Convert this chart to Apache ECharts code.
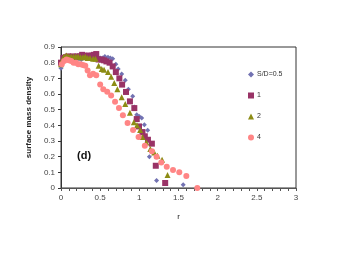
<!DOCTYPE html>
<html><head><meta charset="utf-8">
<script src="https://cdn.jsdelivr.net/npm/echarts@6/dist/echarts.min.js"></script>
<style>html,body{margin:0;padding:0;background:#fff}#c{width:340px;height:255px}</style>
</head><body><div id="c"></div>
<script>
var xTicks = ['0','0.5','1','1.5','2','2.5','3'];
var yTicks = ['0','0.1','0.2','0.3','0.4','0.5','0.6','0.7','0.8','0.9'];
var seriesNames = ['S/D=0.5','1','2','4'];

var r05 = [0.00,0.02,0.05,0.08,0.11,0.14,0.17,0.20,0.23,0.26,0.29,0.32,0.35,0.38,0.41,0.44,0.47,0.50,0.53,0.56,0.60,0.63,0.66,0.70,0.73,0.775,0.82,0.86,0.915,0.936,0.967,1.00,1.03,1.064,1.107,1.128,1.22,1.56];
var y05 = [0.765,0.80,0.82,0.83,0.835,0.83,0.835,0.825,0.825,0.82,0.83,0.83,0.835,0.83,0.83,0.835,0.835,0.83,0.83,0.84,0.835,0.83,0.825,0.79,0.76,0.728,0.687,0.63,0.585,0.517,0.468,0.457,0.447,0.404,0.368,0.20,0.048,0.02];

var r1 = [0.00,0.03,0.06,0.09,0.12,0.15,0.18,0.21,0.24,0.27,0.30,0.33,0.36,0.39,0.42,0.45,0.48,0.52,0.55,0.58,0.62,0.66,0.70,0.745,0.78,0.83,0.88,0.936,0.967,0.996,1.04,1.07,1.11,1.16,1.21,1.33];
var y1 = [0.80,0.83,0.835,0.84,0.835,0.84,0.835,0.84,0.84,0.85,0.845,0.84,0.845,0.845,0.85,0.855,0.82,0.82,0.815,0.808,0.80,0.776,0.74,0.70,0.66,0.613,0.553,0.51,0.44,0.393,0.357,0.33,0.308,0.283,0.142,0.032];

var r2 = [0.00,0.02,0.04,0.07,0.10,0.13,0.16,0.19,0.22,0.25,0.28,0.31,0.34,0.37,0.41,0.44,0.48,0.52,0.55,0.60,0.64,0.68,0.72,0.775,0.82,0.88,0.93,0.97,1.01,1.04,1.09,1.14,1.19,1.23,1.29,1.36];
var y2 = [0.79,0.82,0.84,0.845,0.84,0.84,0.84,0.84,0.84,0.835,0.835,0.84,0.83,0.83,0.825,0.825,0.78,0.76,0.755,0.74,0.71,0.67,0.63,0.58,0.536,0.48,0.42,0.40,0.37,0.325,0.29,0.249,0.227,0.206,0.18,0.083];

var r4 = [0.01,0.04,0.07,0.10,0.13,0.16,0.19,0.22,0.25,0.28,0.31,0.34,0.37,0.41,0.45,0.50,0.54,0.59,0.64,0.69,0.74,0.79,0.85,0.92,0.99,1.07,1.16,1.22,1.28,1.35,1.43,1.51,1.60,1.74];
var y4 = [0.79,0.81,0.82,0.815,0.81,0.80,0.80,0.79,0.79,0.785,0.78,0.75,0.72,0.73,0.72,0.66,0.63,0.615,0.59,0.55,0.51,0.465,0.415,0.37,0.325,0.27,0.234,0.20,0.163,0.136,0.115,0.10,0.076,0.0];

function pairs(a,b){return a.map(function(v,i){return [v,b[i]];});}

var colors = ['#7272b2','#993366','#8c8c14','#ff8585'];
var symbols = ['diamond','rect','triangle','circle'];
var sizes = [5,6,6,6];
var data = [pairs(r05,y05),pairs(r1,y1),pairs(r2,y2),pairs(r4,y4)];

var chart = echarts.init(document.getElementById('c'),null,{renderer:'canvas'});
var font = 'Liberation Sans, Arial, sans-serif';
chart.setOption({
  animation:false,
  backgroundColor:'#fff',
  grid:{left:61,top:47,right:44,bottom:67,show:true,borderColor:'#333',borderWidth:1,backgroundColor:'transparent'},
  legend:{
    orient:'vertical', left:243, top:66, itemGap:14, itemWidth:6, itemHeight:6,
    textStyle:{fontSize:7,color:'#333',fontFamily:font,padding:[0,0,0,-2]},
    data:seriesNames.map(function(n,i){return {name:n,icon:symbols[i]};})
  },
  xAxis:{
    type:'value',min:0,max:3,interval:0.5,name:'r',nameLocation:'middle',nameGap:25,
    nameTextStyle:{fontSize:8,color:'#222',fontFamily:font},
    axisLine:{onZero:false,lineStyle:{color:'#555'}},
    axisTick:{show:true,inside:false,length:3,lineStyle:{color:'#555'}},
    minorTick:{show:true,splitNumber:5,length:3,lineStyle:{color:'#555'}},
    splitLine:{show:false},
    axisLabel:{fontSize:8,color:'#444',fontFamily:font,margin:6,
      formatter:function(v){var s=String(v);return xTicks.indexOf(s)>=0?s:'';}}
  },
  yAxis:{
    type:'value',min:0,max:0.9,interval:0.1,name:'surface mass density',nameLocation:'middle',nameGap:28,
    nameTextStyle:{fontSize:8,fontWeight:'bold',color:'#222',fontFamily:font},
    axisLine:{show:true,onZero:false,lineStyle:{color:'#333'}},
    axisTick:{show:true,length:3,lineStyle:{color:'#333'}},
    splitLine:{show:false},
    axisLabel:{fontSize:8,color:'#444',fontFamily:font,margin:6,
      formatter:function(v){var i=Math.round(v*10);return yTicks[i];}}
  },
  graphic:[{type:'text',left:77,top:150,style:{text:'(d)',font:'bold 11px '+font,fill:'#111'}}],
  series:seriesNames.map(function(n,i){
    return {name:n,type:'scatter',data:data[i],symbol:symbols[i],symbolSize:sizes[i],
      itemStyle:{color:colors[i],opacity:1},z:2+i};
  })
});
</script></body></html>
